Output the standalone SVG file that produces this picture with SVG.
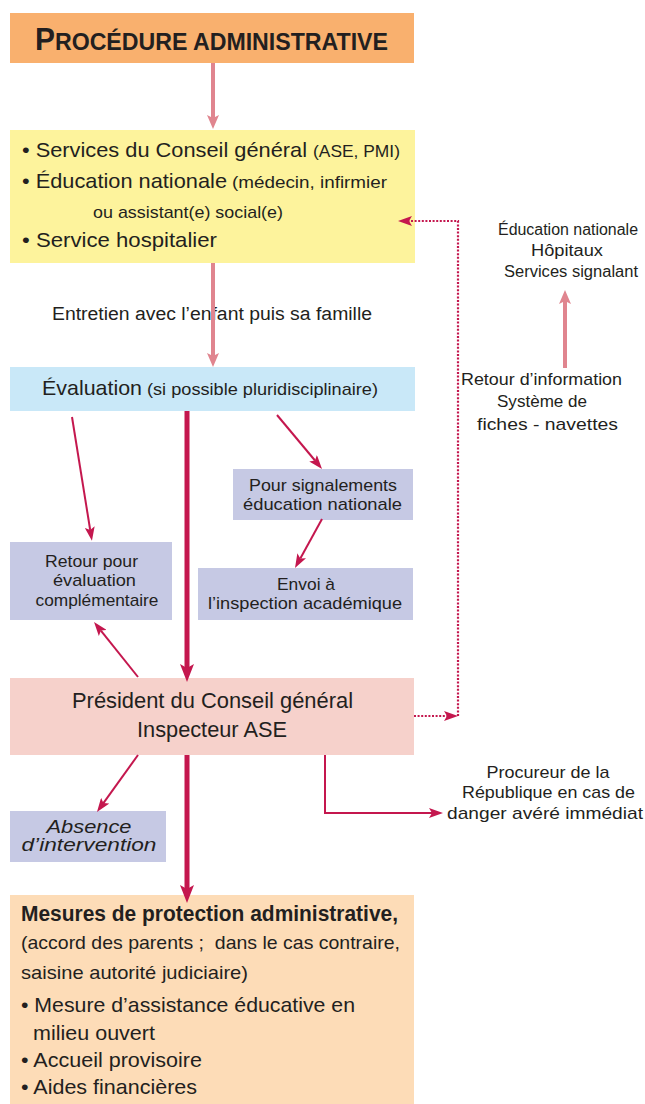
<svg xmlns="http://www.w3.org/2000/svg" width="645" height="1104" viewBox="0 0 645 1104">
<style>
.t{font-family:"Liberation Sans Narrow","Liberation Sans",Arial,sans-serif;fill:#231f20}
.m{text-anchor:middle}
.it{font-family:"Liberation Sans",Arial,sans-serif;font-style:italic;fill:#231f20;text-anchor:middle}
.pink{stroke:#e0858f;stroke-width:4;fill:none}
.thick{stroke:#c4174e;stroke-width:5;fill:none}
.thin{stroke:#c4174e;stroke-width:2;fill:none}
.dot{stroke:#c4174e;stroke-width:2.2;fill:none;stroke-dasharray:2 1.6}
</style>
<defs>
<marker id="hp" markerUnits="userSpaceOnUse" markerWidth="14" markerHeight="12" refX="3" refY="6" orient="auto"><path d="M0,0 L14,6 L0,12 L3,6 z" fill="#e0858f"/></marker>
<marker id="hk" markerUnits="userSpaceOnUse" markerWidth="18" markerHeight="14" refX="4" refY="7" orient="auto"><path d="M0,0 L18,7 L0,14 L4,7 z" fill="#c4174e"/></marker>
<marker id="hr" markerUnits="userSpaceOnUse" markerWidth="14" markerHeight="10" refX="3" refY="5" orient="auto"><path d="M0,0 L14,5 L0,10 L3,5 z" fill="#c4174e"/></marker>
</defs>
<rect width="645" height="1104" fill="#ffffff"/>

<g id="header">
<rect x="10" y="13" width="404" height="50" fill="#f9b06e"/>
<text class="t" x="35" y="50" font-weight="bold" textLength="353" lengthAdjust="spacingAndGlyphs"><tspan font-size="31">P</tspan><tspan font-size="24">ROCÉDURE ADMINISTRATIVE</tspan></text>
</g>

<g id="services">
<rect x="10" y="130" width="405" height="133" fill="#fdf39c"/>
<text class="t" x="22" y="157" font-size="21" textLength="285" lengthAdjust="spacingAndGlyphs">• Services du Conseil général</text>
<text class="t" x="313" y="157" font-size="17" textLength="87" lengthAdjust="spacingAndGlyphs">(ASE, PMI)</text>
<text class="t" x="22" y="188" font-size="21" textLength="205" lengthAdjust="spacingAndGlyphs">• Éducation nationale</text>
<text class="t" x="232" y="188" font-size="17" textLength="155" lengthAdjust="spacingAndGlyphs">(médecin, infirmier</text>
<text class="t" x="93" y="218" font-size="17" textLength="190" lengthAdjust="spacingAndGlyphs">ou assistant(e) social(e)</text>
<text class="t" x="22" y="247" font-size="21" textLength="195" lengthAdjust="spacingAndGlyphs">• Service hospitalier</text>
</g>

<g id="entretien">
<text class="t" x="52" y="320" font-size="18" textLength="320" lengthAdjust="spacingAndGlyphs">Entretien avec l’enfant puis sa famille</text>
</g>

<g id="evaluation">
<rect x="10" y="367" width="405" height="44" fill="#c9e8f8"/>
<text class="t" x="42" y="395" font-size="21" textLength="100" lengthAdjust="spacingAndGlyphs">Évaluation</text>
<text class="t" x="147" y="395" font-size="17" textLength="231" lengthAdjust="spacingAndGlyphs">(si possible pluridisciplinaire)</text>
</g>

<g id="signalants">
<text class="t m" x="568" y="235" font-size="16" textLength="140" lengthAdjust="spacingAndGlyphs">Éducation nationale</text>
<text class="t m" x="567" y="256" font-size="16" textLength="72" lengthAdjust="spacingAndGlyphs">Hôpitaux</text>
<text class="t m" x="571" y="277" font-size="16" textLength="134" lengthAdjust="spacingAndGlyphs">Services signalant</text>
</g>

<g id="retour-info">
<text class="t m" x="541.5" y="385" font-size="17" textLength="161" lengthAdjust="spacingAndGlyphs">Retour d’information</text>
<text class="t m" x="542" y="407" font-size="17" textLength="90" lengthAdjust="spacingAndGlyphs">Système de</text>
<text class="t m" x="547.5" y="430" font-size="17" textLength="141" lengthAdjust="spacingAndGlyphs">fiches - navettes</text>
</g>

<g id="signalements-en">
<rect x="233" y="469" width="180" height="51" fill="#c6c9e4"/>
<text class="t m" x="323" y="491" font-size="17" textLength="148" lengthAdjust="spacingAndGlyphs">Pour signalements</text>
<text class="t m" x="322.5" y="510" font-size="17" textLength="159" lengthAdjust="spacingAndGlyphs">éducation nationale</text>
</g>

<g id="envoi">
<rect x="198" y="568" width="215" height="52" fill="#c6c9e4"/>
<text class="t m" x="306" y="590" font-size="17" textLength="58" lengthAdjust="spacingAndGlyphs">Envoi à</text>
<text class="t m" x="305" y="609" font-size="17" textLength="194" lengthAdjust="spacingAndGlyphs">l’inspection académique</text>
</g>

<g id="retour-eval">
<rect x="10" y="542" width="162" height="78" fill="#c6c9e4"/>
<text class="t m" x="91.5" y="567" font-size="17" textLength="93" lengthAdjust="spacingAndGlyphs">Retour pour</text>
<text class="t m" x="94.5" y="586" font-size="17" textLength="83" lengthAdjust="spacingAndGlyphs">évaluation</text>
<text class="t m" x="97" y="606" font-size="17" textLength="123" lengthAdjust="spacingAndGlyphs">complémentaire</text>
</g>

<g id="president">
<rect x="10" y="678" width="404" height="77" fill="#f6d1cb"/>
<text class="t m" x="212.5" y="708" font-size="22" textLength="281" lengthAdjust="spacingAndGlyphs">Président du Conseil général</text>
<text class="t m" x="212" y="737" font-size="22" textLength="150" lengthAdjust="spacingAndGlyphs">Inspecteur ASE</text>
</g>

<g id="absence">
<rect x="10" y="811" width="156" height="51" fill="#c6c9e4"/>
<text class="it" x="89" y="833" font-size="18" textLength="85" lengthAdjust="spacingAndGlyphs">Absence</text>
<text class="it" x="89" y="851" font-size="18" textLength="135" lengthAdjust="spacingAndGlyphs">d’intervention</text>
</g>

<g id="procureur">
<text class="t m" x="548" y="778" font-size="17" textLength="123" lengthAdjust="spacingAndGlyphs">Procureur de la</text>
<text class="t m" x="548.5" y="798" font-size="17" textLength="173" lengthAdjust="spacingAndGlyphs">République en cas de</text>
<text class="t m" x="545" y="819" font-size="17" textLength="196" lengthAdjust="spacingAndGlyphs">danger avéré immédiat</text>
</g>

<g id="mesures">
<rect x="10" y="895" width="404" height="209" fill="#fddcb7"/>
<text class="t" x="21" y="921" font-size="22" font-weight="bold" textLength="377" lengthAdjust="spacingAndGlyphs">Mesures de protection administrative,</text>
<text class="t" x="21" y="949" font-size="19" textLength="379" lengthAdjust="spacingAndGlyphs">(accord des parents ; &#160;dans le cas contraire,</text>
<text class="t" x="21" y="979" font-size="19" textLength="227" lengthAdjust="spacingAndGlyphs">saisine autorité judiciaire)</text>
<text class="t" x="21" y="1012" font-size="21" textLength="334" lengthAdjust="spacingAndGlyphs">• Mesure d’assistance éducative en</text>
<text class="t" x="33" y="1040" font-size="21" textLength="122" lengthAdjust="spacingAndGlyphs">milieu ouvert</text>
<text class="t" x="21" y="1067" font-size="21" textLength="181" lengthAdjust="spacingAndGlyphs">• Accueil provisoire</text>
<text class="t" x="21" y="1094" font-size="21" textLength="176" lengthAdjust="spacingAndGlyphs">• Aides financières</text>
</g>

<g id="connectors">
<line class="pink" x1="213" y1="63" x2="213" y2="118" marker-end="url(#hp)"/>
<line class="pink" x1="213" y1="263" x2="213" y2="356" marker-end="url(#hp)"/>
<line class="pink" x1="565" y1="368" x2="565" y2="301" marker-end="url(#hp)"/>
<line class="thick" x1="187" y1="411" x2="187" y2="668" marker-end="url(#hk)"/>
<line class="thick" x1="187" y1="755" x2="187" y2="889" marker-end="url(#hk)"/>
<line class="thin" x1="72" y1="417" x2="90.2" y2="530" marker-end="url(#hr)"/>
<line class="thin" x1="277" y1="415" x2="315" y2="460.5" marker-end="url(#hr)"/>
<line class="thin" x1="322" y1="519" x2="300.3" y2="558.4" marker-end="url(#hr)"/>
<line class="thin" x1="138" y1="677" x2="100.9" y2="630.6" marker-end="url(#hr)"/>
<line class="thin" x1="138" y1="755" x2="103.4" y2="803.1" marker-end="url(#hr)"/>
<polyline class="thin" points="325,755 325,813 432,813" marker-end="url(#hr)"/>
<line class="dot" x1="414" y1="716" x2="447" y2="716" marker-end="url(#hr)"/>
<polyline class="dot" points="458,716 458,221 409,221" marker-end="url(#hr)"/>
</g>
</svg>
